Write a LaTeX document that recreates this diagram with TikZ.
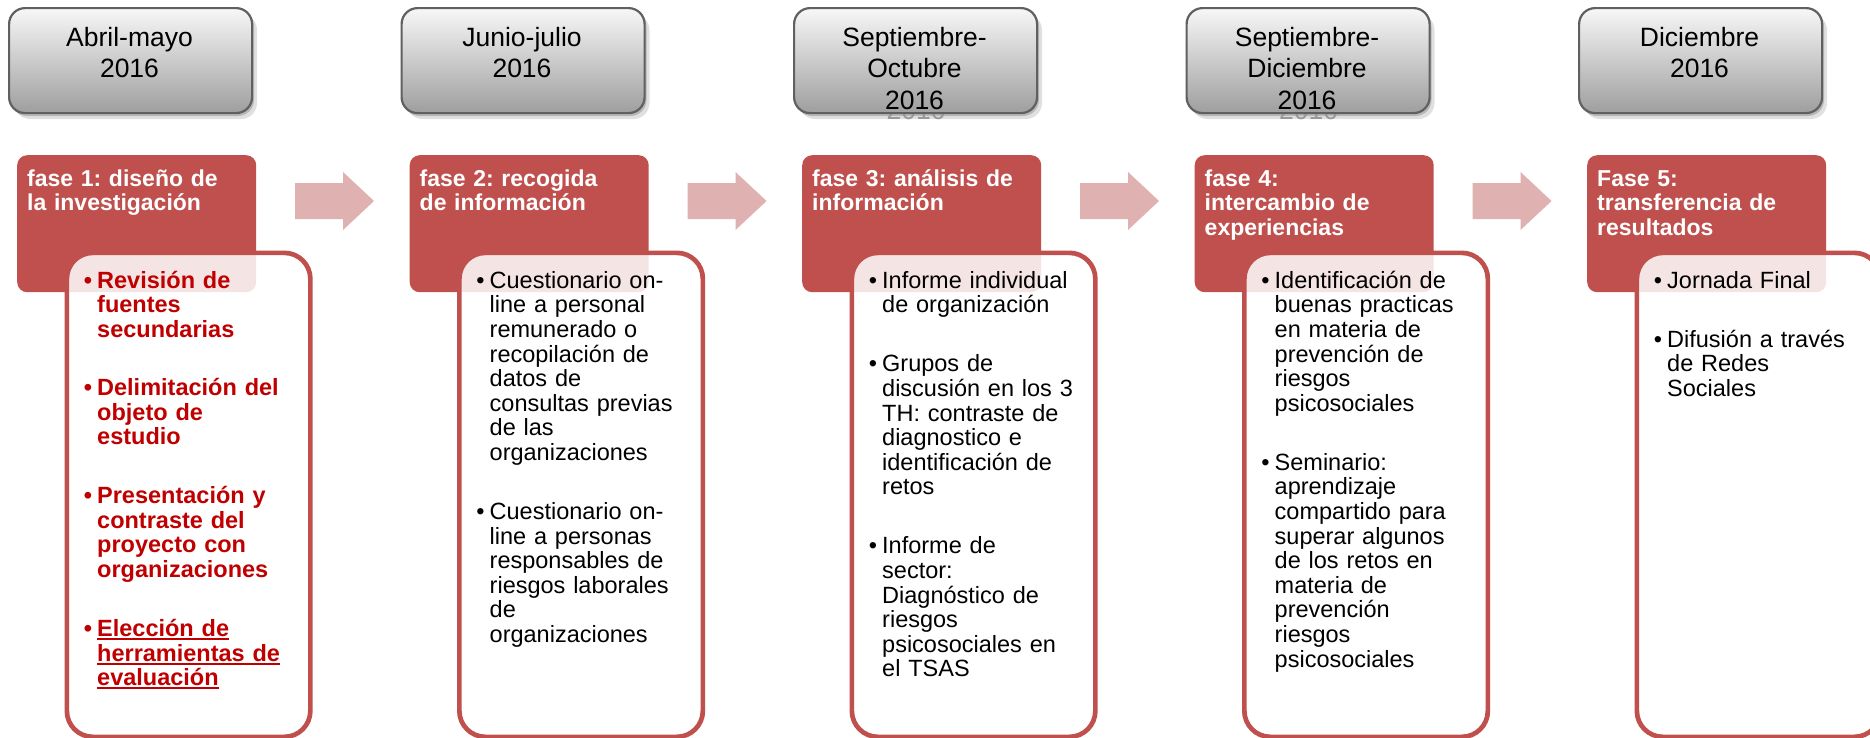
\documentclass[tikz,border=0pt]{standalone}
\usepackage{fontspec}
\setmainfont{Liberation Sans}
\frenchspacing
\definecolor{hdrred}{HTML}{C0504D}
\definecolor{arrowred}{HTML}{DFB1B0}
\definecolor{bodyred}{HTML}{C00000}
\definecolor{dateborder}{HTML}{606060}
\newcommand{\mybul}{\rule{0pt}{20pt}\llap{•\hspace{5pt}}}
\newcommand{\firstln}{\rule{0pt}{20pt}}
\newcommand{\myul}[1]{\leavevmode\setbox0=\hbox{#1}\rlap{\rule[-3.5pt]{\wd0}{2pt}}\box0}
\begin{document}
\begin{tikzpicture}[x=1pt,y=-1pt,
  datebox/.style={draw=dateborder, line width=2.2pt, rounded corners=16pt,
    top color=white!97!black, bottom color=black!38, minimum width=243pt,
    minimum height=105pt, anchor=north west, inner sep=0pt},
  dshadow/.style={fill=black, rounded corners=16pt},
  datetxt/.style={font=\fontsize{26.5}{31.5}\selectfont, align=center,
    text width=240pt, anchor=north, inner sep=0pt},
  tshadow/.style={font=\fontsize{26.5}{31.5}\selectfont, text=black!40,
    anchor=base, inner sep=0pt},
  hdrbox/.style={fill=hdrred, rounded corners=10pt, minimum width=239pt,
    minimum height=137pt, anchor=north west, inner sep=0pt},
  hdrtxt/.style={font=\bfseries\fontsize{23}{24.6}\selectfont, text=white,
    align=left, text width=230pt, anchor=north west, inner sep=0pt},
  wbox/.style={draw=hdrred, line width=4.7pt, fill=white, fill opacity=0.85,
    rounded corners=26pt, minimum width=243.5pt, minimum height=484pt,
    anchor=north west, inner sep=0pt},
  bodytxt/.style={font=\fontsize{23.5}{24.6}\selectfont, align=left,
    text width=225pt, anchor=north west, inner sep=0pt},
  redtxt/.style={bodytxt, font=\bfseries\fontsize{23.5}{24.6}\selectfont, text=bodyred},
  blockarrow/.style={fill=arrowred}
]
\useasboundingbox (0,0) rectangle (1870,737);
\clip (0,0) rectangle (1870,737);
\fill[white] (0,0) rectangle (1870,737);

% ---------- column 1 ----------
\begin{scope}[xshift=0pt]
\fill[dshadow, opacity=0.12] (14,14) rectangle (257,119);
\fill[dshadow, opacity=0.18] (11,11) rectangle (254,116);
\node[datebox] (d1) at (8,7) {};
\node[datetxt] (dt1) at (129.5,26) {\firstln Abril-mayo\\2016};
\node[hdrbox] (h1) at (17,155) {};
\node[hdrtxt] (ht1) at (27,166) {\firstln fase 1: diseño de\\la investigación};
\node[wbox] (w1) at (64.5,250.5) {};
\node[redtxt] (b11) at (97,268) {\mybul Revisión de\\fuentes\\secundarias};
\node[redtxt] (b12) at (97,375.2) {\mybul Delimitación del\\objeto de\\estudio};
\node[redtxt] (b13) at (97,483.4) {\mybul Presentación y\\contraste del\\proyecto con\\organizaciones};
\node[redtxt] (b14) at (97,616.2) {\mybul\myul{Elección de}\\\myul{herramientas de}\\\myul{evaluación}};
\fill[blockarrow] (295,183) -- (343,183) -- (343,172) -- (374,201) -- (343,230) -- (343,219) -- (295,219) -- cycle;
\end{scope}

% ---------- column 2 ----------
\begin{scope}[xshift=392.5pt]
\fill[dshadow, opacity=0.12] (14,14) rectangle (257,119);
\fill[dshadow, opacity=0.18] (11,11) rectangle (254,116);
\node[datebox] (d2) at (8,7) {};
\node[datetxt] (dt2) at (129.5,26) {\firstln Junio-julio\\2016};
\node[hdrbox] (h2) at (17,155) {};
\node[hdrtxt] (ht2) at (27,166) {\firstln fase 2: recogida\\de información};
\node[wbox] (w2) at (64.5,250.5) {};
\node[bodytxt] (b21) at (97,268) {\mybul Cuestionario on-\\line a personal\\remunerado o\\recopilación de\\datos de\\consultas previas\\de las\\organizaciones};
\node[bodytxt] (b22) at (97,499.2) {\mybul Cuestionario on-\\line a personas\\responsables de\\riesgos laborales\\de\\organizaciones};
\fill[blockarrow] (295,183) -- (343,183) -- (343,172) -- (374,201) -- (343,230) -- (343,219) -- (295,219) -- cycle;
\end{scope}

% ---------- column 3 ----------
\begin{scope}[xshift=785pt]
\fill[dshadow, opacity=0.12] (14,14) rectangle (257,119);
\fill[dshadow, opacity=0.18] (11,11) rectangle (254,116);
\node[tshadow] (ts3) at (131,119) {2016};
\node[datebox] (d3) at (8,7) {};
\node[datetxt] (dt3) at (129.5,26) {\firstln Septiembre-\\Octubre\\2016};
\node[hdrbox] (h3) at (17,155) {};
\node[hdrtxt] (ht3) at (27,166) {\firstln fase 3: análisis de\\información};
\node[wbox] (w3) at (64.5,250.5) {};
\node[bodytxt] (b31) at (97,268) {\mybul Informe individual\\de organización};
\node[bodytxt] (b32) at (97,351.6) {\mybul Grupos de\\discusión en los 3\\TH: contraste de\\diagnostico e\\identificación de\\retos};
\node[bodytxt] (b33) at (97,533.6) {\mybul Informe de\\sector:\\Diagnóstico de\\riesgos\\psicosociales en\\el TSAS};
\fill[blockarrow] (295,183) -- (343,183) -- (343,172) -- (374,201) -- (343,230) -- (343,219) -- (295,219) -- cycle;
\end{scope}

% ---------- column 4 ----------
\begin{scope}[xshift=1177.5pt]
\fill[dshadow, opacity=0.12] (14,14) rectangle (257,119);
\fill[dshadow, opacity=0.18] (11,11) rectangle (254,116);
\node[tshadow] (ts4) at (131,119) {2016};
\node[datebox] (d4) at (8,7) {};
\node[datetxt] (dt4) at (129.5,26) {\firstln Septiembre-\\Diciembre\\2016};
\node[hdrbox] (h4) at (17,155) {};
\node[hdrtxt] (ht4) at (27,166) {\firstln fase 4:\\intercambio de\\experiencias};
\node[wbox] (w4) at (64.5,250.5) {};
\node[bodytxt] (b41) at (97,268) {\mybul Identificación de\\buenas practicas\\en materia de\\prevención de\\riesgos\\psicosociales};
\node[bodytxt] (b42) at (97,450) {\mybul Seminario:\\aprendizaje\\compartido para\\superar algunos\\de los retos en\\materia de\\prevención\\riesgos\\psicosociales};
\fill[blockarrow] (295,183) -- (343,183) -- (343,172) -- (374,201) -- (343,230) -- (343,219) -- (295,219) -- cycle;
\end{scope}

% ---------- column 5 ----------
\begin{scope}[xshift=1570pt]
\fill[dshadow, opacity=0.12] (14,14) rectangle (257,119);
\fill[dshadow, opacity=0.18] (11,11) rectangle (254,116);
\node[datebox] (d5) at (8,7) {};
\node[datetxt] (dt5) at (129.5,26) {\firstln Diciembre\\2016};
\node[hdrbox] (h5) at (17,155) {};
\node[hdrtxt] (ht5) at (27,166) {\firstln Fase 5:\\transferencia de\\resultados};
\node[wbox] (w5) at (64.5,250.5) {};
\node[bodytxt] (b51) at (97,268) {\mybul Jornada Final};
\node[bodytxt] (b52) at (97,327) {\mybul Difusión a través\\de Redes\\Sociales};
\end{scope}
\end{tikzpicture}
\end{document}
